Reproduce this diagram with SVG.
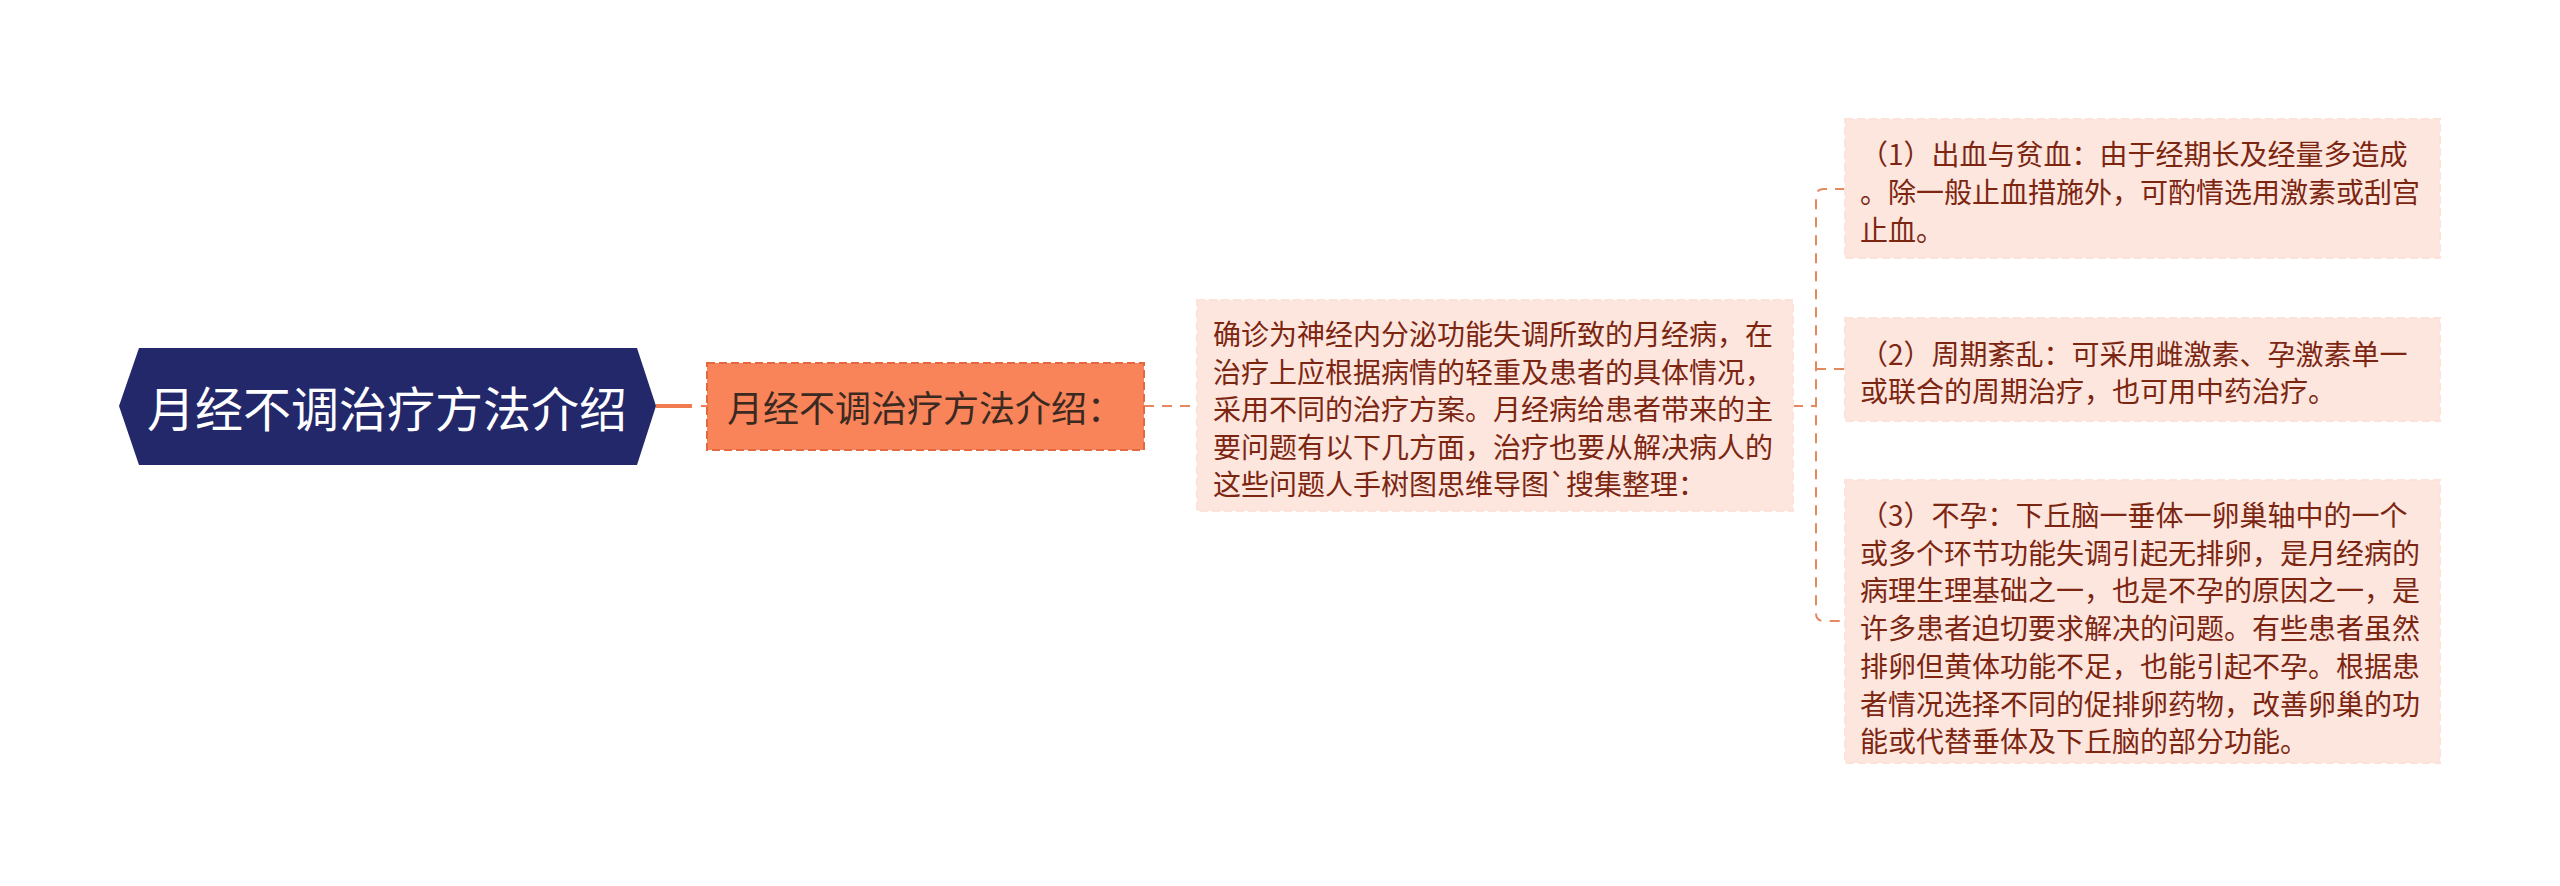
<svg xmlns="http://www.w3.org/2000/svg" width="2560" height="886" viewBox="0 0 2560 886">
<style>
.t{font-family:"Noto Sans CJK SC","Noto Sans",sans-serif;}
.box{fill:#fde6de;stroke:#fce2d9;stroke-width:2;stroke-dasharray:8 4;}
.bt{font-size:28px;fill:#7c2612;dominant-baseline:central;}
.edge{fill:none;stroke:#e3885f;stroke-width:2;stroke-dasharray:10 8;}
</style>
<rect width="2560" height="886" fill="#ffffff"/>
<g id="connectors">
<line x1="656" y1="406" x2="692" y2="406" stroke="#f07c50" stroke-width="4"/>
<line x1="701" y1="406" x2="707" y2="406" stroke="#f07c50" stroke-width="2"/>
<line x1="1144" y1="406" x2="1197" y2="406" class="edge"/>
<line x1="1793" y1="406" x2="1816" y2="406" class="edge"/>
<path d="M1845 189 H1824 Q1816 189 1816 197 V613 Q1816 621 1824 621 H1845" class="edge"/>
<line x1="1816" y1="369" x2="1845" y2="369" class="edge"/>
</g>
<g id="root">
<polygon points="139,348 637,348 656,406 637,465 139,465 119,406" fill="#22286a"/>
<text class="t" x="387" y="406" font-size="48" fill="#ffffff" text-anchor="middle" dominant-baseline="central">月经不调治疗方法介绍</text>
</g>
<g id="n1">
<rect x="707" y="363" width="437" height="87" fill="#f9845a" stroke="#e4683f" stroke-width="2" stroke-dasharray="8 4"/>
<text class="t" x="727" y="406" font-size="36" fill="#3b2a22" dominant-baseline="central">月经不调治疗方法介绍：</text>
</g>
<g id="n2">
<rect x="1197" y="300" width="596" height="211" class="box"/>
<text class="t bt" x="1213" y="333">确诊为神经内分泌功能失调所致的月经病，在</text>
<text class="t bt" x="1213" y="371">治疗上应根据病情的轻重及患者的具体情况，</text>
<text class="t bt" x="1213" y="408">采用不同的治疗方案。月经病给患者带来的主</text>
<text class="t bt" x="1213" y="446">要问题有以下几方面，治疗也要从解决病人的</text>
<text class="t bt" x="1213" y="483">这些问题人手树图思维导图`搜集整理：</text>
</g>
<g id="n3">
<rect x="1845" y="119" width="595" height="139" class="box"/>
<text class="t bt" x="1860" y="153">（1）出血与贫血：由于经期长及经量多造成</text>
<text class="t bt" x="1860" y="191">。除一般止血措施外，可酌情选用激素或刮宫</text>
<text class="t bt" x="1860" y="229">止血。</text>
</g>
<g id="n4">
<rect x="1845" y="318" width="595" height="103" class="box"/>
<text class="t bt" x="1860" y="353">（2）周期紊乱：可采用雌激素、孕激素单一</text>
<text class="t bt" x="1860" y="390">或联合的周期治疗，也可用中药治疗。</text>
</g>
<g id="n5">
<rect x="1845" y="480" width="595" height="283" class="box"/>
<text class="t bt" x="1860" y="514">（3）不孕：下丘脑一垂体一卵巢轴中的一个</text>
<text class="t bt" x="1860" y="552">或多个环节功能失调引起无排卵，是月经病的</text>
<text class="t bt" x="1860" y="589">病理生理基础之一，也是不孕的原因之一，是</text>
<text class="t bt" x="1860" y="627">许多患者迫切要求解决的问题。有些患者虽然</text>
<text class="t bt" x="1860" y="665">排卵但黄体功能不足，也能引起不孕。根据患</text>
<text class="t bt" x="1860" y="703">者情况选择不同的促排卵药物，改善卵巢的功</text>
<text class="t bt" x="1860" y="740">能或代替垂体及下丘脑的部分功能。</text>
</g>
</svg>
